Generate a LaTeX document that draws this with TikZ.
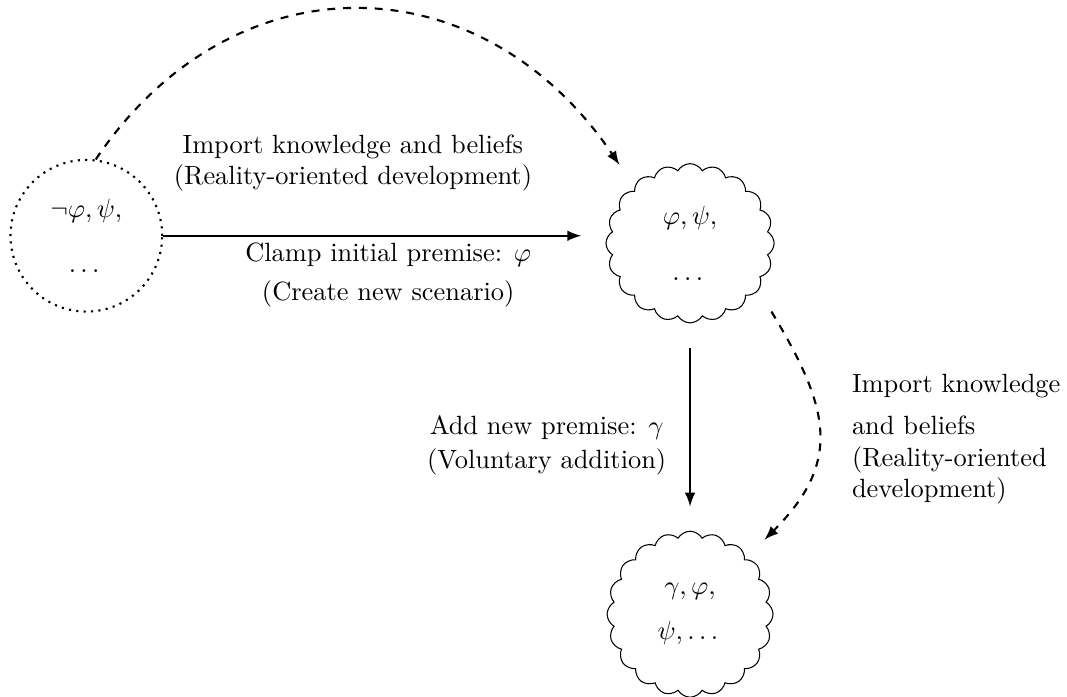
\documentclass[tikz,border=0pt]{standalone}
\usepackage{mathtools}
\usepackage{tikz}
\usetikzlibrary{shapes.symbols,positioning}

\tikzset{
  world/.style = {draw, dotted, thick, circle, minimum size = 2.02cm, align = center},
  scen/.style = {draw, cloud, cloud puffs = 20, cloud puff arc = 120, inner sep = 0pt, outer sep = 0.33cm, align = center},
  lbl/.style = {align = center, inner sep = 0pt}
}

\begin{document}
\begin{tikzpicture}
\useasboundingbox (0,0) rectangle (14.21,-9.28);
\node[world] (real) at (1.15,-3.14) {$\neg\varphi, \psi,$\\[9pt] $\dots$};
\node[scen, cloud ignores aspect, minimum width = 2.24cm, minimum height = 2.12cm] (s1) at (9.19,-3.24) {$\varphi, \psi,$\\[9pt] $\dots$};
\node[scen, aspect = 1, minimum size = 2.21cm] (s2) at (9.19,-8.18) {$\gamma, \varphi,$\\[5pt] $\psi, \dots$};

\node[lbl] (imp1) at (4.70,-2.17) {Import knowledge and beliefs\\(Reality-oriented development)};
\node[lbl] (clamp) at (5.17,-3.66) {Clamp initial premise: $\varphi$\\[3pt](Create new scenario)};
\node[lbl] (addp) at (7.28,-5.93) {Add new premise: $\gamma$\\[1pt](Voluntary addition)};
\node[lbl, anchor = west, align = left] (imp2) at (11.34,-5.85) {Import knowledge\\[4pt]and beliefs\\(Reality-oriented\\development)};

\draw[-latex, thick] (real.east) -- (real.east -| s1.west);
\draw[-latex, thick] (s1.south) -- (s2.north);
\draw[-latex, thick, dashed] (real.83) to[out = 56, in = 124, looseness = 1.2] (s1.132);
\draw[-latex, thick, dashed] (s1.-40) to[out = -59, in = 45, looseness = 1.25] (s2.45);
\end{tikzpicture}
\end{document}
